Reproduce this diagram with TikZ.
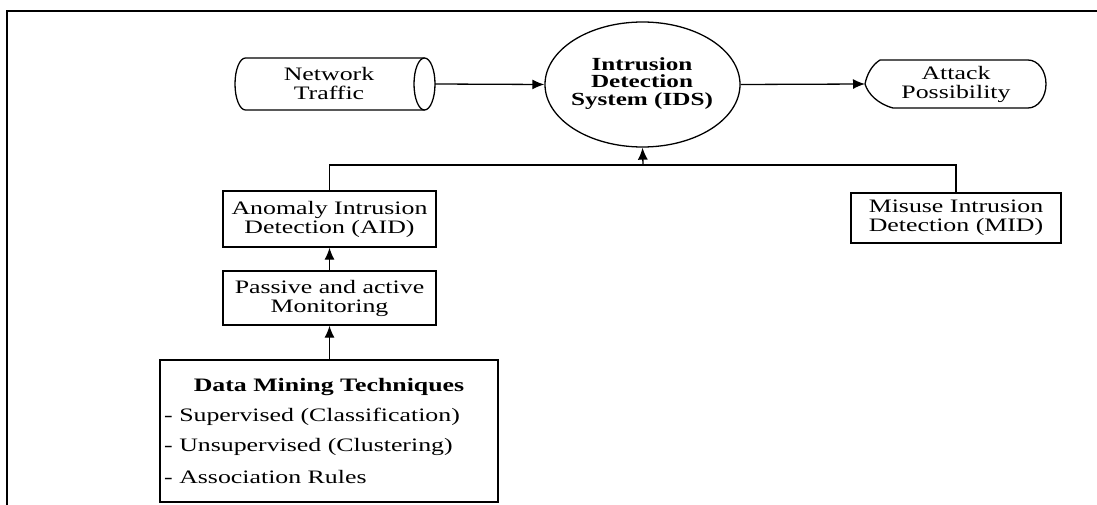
\documentclass[tikz,border=0pt]{standalone}
\usepackage{fontspec}
\setmainfont{Liberation Serif}[FakeStretch=1.36]
\usetikzlibrary{arrows.meta,shapes.geometric}
\begin{document}
\begin{tikzpicture}[x=1pt,y=1pt,
  line/.style={line width=1.3pt,draw=black},
  arr/.style={line,-{Latex[length=12pt,width=10pt]}},
  box/.style={line,rectangle,inner sep=0pt,align=center,font=\fontsize{19}{19}\selectfont},
  txt/.style={inner sep=0pt,align=center,font=\fontsize{19}{19}\selectfont},
  btxt/.style={inner sep=0pt,align=center,font=\fontsize{18.5}{17.5}\selectfont\bfseries}]
\useasboundingbox (0,0) rectangle (1097,-505);
% frame
\draw[line width=1.5pt] (7,-505) -- (7,-11) -- (1097,-11);
% Network Traffic cylinder
\draw[line] (424.5,-58) -- (245.5,-58) arc[start angle=90,end angle=270,x radius=10.5,y radius=26] -- (424.5,-110);
\draw[line] (424.5,-84) ellipse[x radius=10.5,y radius=26];
\node[txt] (nt) at (329,-84) {Network\\Traffic};
\coordinate (ntE) at (435,-84);
% IDS
\node[line,ellipse,minimum width=195pt,minimum height=125pt,inner sep=0pt] (ids) at (642.5,-84.5) {};
\node[btxt] (idst) at (642,-83.5) {Intrusion\\Detection\\System (IDS)};
% Attack Possibility
\draw[line] (880,-60) -- (1028,-60) arc[start angle=90,end angle=-90,x radius=18,y radius=24]
  -- (893,-108) .. controls (878,-104) and (868,-94) .. (865,-84)
  .. controls (867,-74) and (872,-65) .. (880,-60);
\coordinate (apW) at (865,-84);
\node[txt] (ap) at (956,-84) {Attack\\Possibility};
% boxes
\node[box,minimum width=213pt,minimum height=56pt] (aid) at (329.5,-219) {Anomaly Intrusion\\Detection (AID)};
\node[box,minimum width=213pt,minimum height=54pt] (pam) at (329.5,-298) {Passive and active\\Monitoring};
\node[box,minimum width=210pt,minimum height=50pt] (mid) at (956,-218) {Misuse Intrusion\\Detection (MID)};
\node[line,rectangle,inner sep=0pt,minimum width=338pt,minimum height=142pt] (dmt) at (329,-431) {};
\node[txt,font=\fontsize{19}{19}\selectfont\bfseries] (dmt0) at (329,-387) {Data Mining Techniques};
\node[txt,anchor=west] (dmt1) at (164,-417) {- Supervised (Classification)};
\node[txt,anchor=west] (dmt2) at (164,-447) {- Unsupervised (Clustering)};
\node[txt,anchor=west] (dmt3) at (164,-477) {- Association Rules};
% connectors
\draw[arr] (ntE) -- (ids.west);
\draw[arr] (ids.east) -- (apW);
\coordinate (bus) at (643,-165);
\draw[line] (aid.north) |- (bus) -| (mid.north);
\draw[arr] (bus) -- (ids.south);
\draw[arr] (pam.north) -- (aid.south);
\draw[arr] (dmt.north -| pam.north) -- (pam.south);
\end{tikzpicture}
\end{document}
